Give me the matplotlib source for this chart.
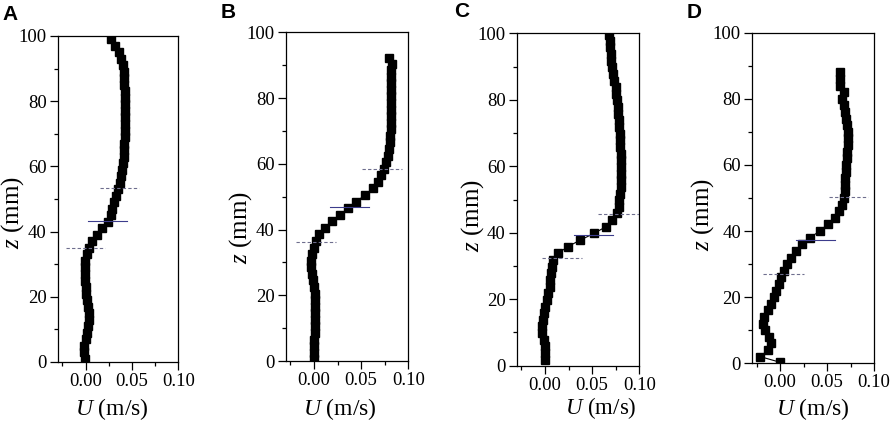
import matplotlib
matplotlib.use("Agg")
import matplotlib.pyplot as plt
from matplotlib.ticker import MultipleLocator

plt.rcParams['font.family'] = ['Liberation Serif', 'DejaVu Serif']
plt.rcParams['mathtext.fontset'] = 'custom'
plt.rcParams['mathtext.it'] = 'Liberation Serif:italic'
plt.rcParams['mathtext.rm'] = 'Liberation Serif'

# ---------------- data ----------------
panel_labels = ["A", "B", "C", "D"]

z_A = [1, 3, 5, 7, 9, 11, 13, 15, 17, 19, 21, 23, 25, 27, 29, 31, 33, 35, 37, 39,
       41, 43, 45, 47, 49, 51, 53, 55, 57, 59, 61, 63, 65, 67, 69, 71, 73, 75, 77, 79,
       81, 83, 85, 87, 89, 91, 93, 95, 97, 99]
u_A = [-0.001, -0.0018, -0.0015, 0.0, 0.0015, 0.003, 0.0036, 0.0037, 0.003, 0.002,
       0.001, 0.0, -0.0005, -0.001, -0.001, -0.0003, 0.0012, 0.0035, 0.0068, 0.012,
       0.018, 0.024, 0.027, 0.029, 0.031, 0.033, 0.035, 0.037, 0.038, 0.0395,
       0.0405, 0.041, 0.0415, 0.042, 0.0422, 0.0425, 0.0425, 0.0425, 0.0425, 0.0425,
       0.0423, 0.0422, 0.042, 0.0415, 0.041, 0.040, 0.0385, 0.0356, 0.032, 0.027]

z_B = [0.5, 2.5, 4.5, 6.5, 8.5, 10.5, 12.5, 14.5, 16.5, 18.5, 20.5, 22.5, 24.5, 26.5,
       28.5, 30.5, 32.5, 34.5, 36.5, 38.5, 40.5, 42.5, 44.5, 46.5, 48.5, 50.5, 52.5,
       54.5, 56.5, 58.5, 60.5, 62.5, 64.5, 66.5, 68.5, 70.5, 72.5, 74.5, 76.5, 78.5,
       80.5, 82.5, 84.5, 86.5, 88.5, 90.5, 92.3]
u_B = [0.0, 0.0, 0.0, 0.0005, 0.0007, 0.001, 0.001, 0.0012, 0.0014, 0.0012,
       0.0007, 0.0, -0.001, -0.002, -0.0027, -0.0028, -0.002, -0.0005, 0.002, 0.0055,
       0.012, 0.0195, 0.028, 0.036, 0.045, 0.054, 0.0625, 0.068, 0.0715, 0.074,
       0.0765, 0.078, 0.0795, 0.0805, 0.081, 0.0815, 0.0818, 0.082, 0.082, 0.082,
       0.082, 0.082, 0.0818, 0.0815, 0.082, 0.0828, 0.080]

z_C = [1.8, 3.8, 5.8, 7.8, 9.8, 11.8, 13.8, 15.8, 17.8, 19.8, 21.8, 23.8, 25.8, 27.8,
       29.8, 31.8, 33.8, 35.8, 37.8, 39.8, 41.8, 43.8, 45.8, 47.8, 49.8, 51.8, 53.8,
       55.8, 57.8, 59.8, 61.8, 63.8, 65.8, 67.8, 69.8, 71.8, 73.8, 75.8, 77.8, 79.8,
       81.8, 83.8, 85.8, 87.8, 89.8, 91.8, 93.8, 95.8, 97.8, 99.5]
u_C = [0.0, 0.0, 0.0, -0.001, -0.003, -0.0032, -0.002, -0.001, 0.0003, 0.002,
       0.0035, 0.005, 0.0055, 0.006, 0.007, 0.009, 0.014, 0.024, 0.0375, 0.052,
       0.0645, 0.0715, 0.076, 0.078, 0.079, 0.0798, 0.0803, 0.0807, 0.081, 0.081,
       0.0808, 0.0803, 0.080, 0.0798, 0.0795, 0.0788, 0.078, 0.0775, 0.077, 0.076,
       0.0755, 0.075, 0.0735, 0.072, 0.071, 0.070, 0.0695, 0.069, 0.0685, 0.068]

z_D = [0.3, 2, 4, 6, 8, 10, 12, 14, 16, 18, 20, 22, 24, 26, 28, 30, 32, 34, 36, 38,
       40, 42, 44, 46, 48, 50, 52, 54, 56, 58, 60, 62, 64, 66, 68, 70, 72, 74, 76, 78,
       80, 82, 84, 86, 88]
u_D = [0.0, -0.021, -0.0132, -0.0097, -0.0115, -0.0157, -0.0185, -0.0168, -0.0132, -0.0097,
       -0.0065, -0.004, -0.0015, 0.001, 0.004, 0.0077, 0.012, 0.017, 0.0235, 0.032,
       0.042, 0.0507, 0.0584, 0.063, 0.066, 0.0678, 0.069, 0.069, 0.0695, 0.070,
       0.070, 0.071, 0.0717, 0.0724, 0.0727, 0.0724, 0.0717, 0.0706, 0.069, 0.068,
       0.0664, 0.068, 0.0636, 0.0636, 0.0636]

# shear-layer marker lines: (z level, U start, U end) -- lower, centre, upper
lines_A = [(35.0, -0.021, 0.0205), (43.1, 0.0025, 0.045), (53.5, 0.016, 0.058)]
lines_B = [(36.3, -0.019, 0.0236), (46.8, 0.0165, 0.058), (58.5, 0.051, 0.093)]
lines_C = [(32.4, -0.003, 0.039), (39.4, 0.031, 0.072), (45.7, 0.056, 0.100)]
lines_D = [(27.1, -0.018, 0.025), (37.4, 0.0165, 0.0585), (50.4, 0.052, 0.094)]

xticks = [0.00, 0.05, 0.10]
xticklabels = ["0.00", "0.05", "0.10"]
yticks = [0, 20, 40, 60, 80, 100]

# ---------------- layout ----------------
W, H = 892, 422
fig = plt.figure(figsize=(W / 100, H / 100), dpi=100)

boxes = [(57.7, 178.3, 36.0, 362.0),
         (285.7, 408.3, 32.3, 361.0),
         (516.7, 639.3, 33.3, 365.7),
         (752.0, 874.0, 32.7, 363.3)]
letter_pos = [(2, 20), (221, 18), (454, 17), (687, 18)]
ylabel_pos = [(13, 213), (241, 228), (473, 216), (703, 215)]
xlabel_pos = [(112, 409), (340, 409), (601, 408), (813, 409)]

data = [(z_A, u_A, lines_A), (z_B, u_B, lines_B), (z_C, u_C, lines_C), (z_D, u_D, lines_D)]

for i, ((zz, uu, hl), (l, r, t, b)) in enumerate(zip(data, boxes)):
    ax = fig.add_axes([l / W, 1 - b / H, (r - l) / W, (b - t) / H])
    for j, (zl, u0, u1) in enumerate(hl):
        if j == 1:
            ax.plot([u0, u1], [zl, zl], color='#3c3c8c', lw=0.8, zorder=3)
        else:
            ax.plot([u0, u1], [zl, zl], color='#6e6e8e', lw=0.8,
                    dashes=(3, 2), zorder=3)
    ax.plot(uu, zz, color='black', lw=0.8, marker='s', markersize=5.6,
            markerfacecolor='black', markeredgecolor='black', zorder=2)
    ax.set_xlim(-0.03, 0.10)
    ax.set_ylim(0, 100)
    ax.set_xticks(xticks)
    ax.set_xticklabels(xticklabels)
    ax.set_yticks(yticks)
    ax.xaxis.set_minor_locator(MultipleLocator(0.025))
    ax.yaxis.set_minor_locator(MultipleLocator(10))
    ax.tick_params(which='both', direction='out', top=False, right=False,
                   labelsize=13.5, width=0.9, pad=2.5)
    ax.tick_params(which='major', length=5.5)
    ax.tick_params(which='minor', length=3)
    for s in ax.spines.values():
        s.set_linewidth(0.9)

    fig.text(letter_pos[i][0] / W, 1 - letter_pos[i][1] / H, panel_labels[i],
             family='Liberation Sans', weight='bold', fontsize=15,
             ha='left', va='baseline')
    fig.text(ylabel_pos[i][0] / W, 1 - ylabel_pos[i][1] / H, r'$\mathit{z}$ (mm)',
             rotation=90, ha='center', va='center', fontsize=18)
    fig.text(xlabel_pos[i][0] / W, 1 - xlabel_pos[i][1] / H, r'$\mathit{U}$ (m/s)',
             ha='center', va='center', fontsize=16.5 if i == 2 else 17)

fig.savefig("out.png", dpi=100)
